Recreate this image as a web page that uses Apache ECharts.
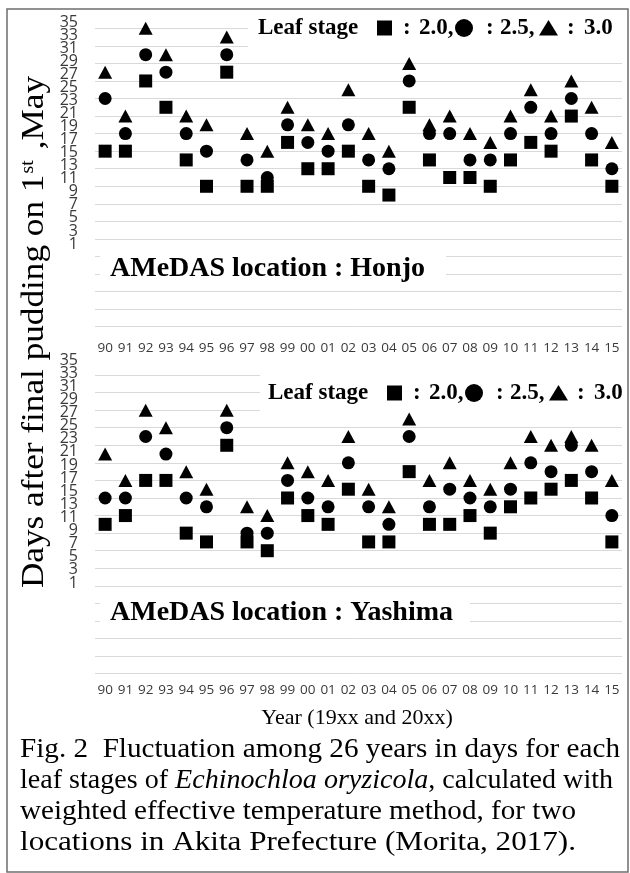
<!DOCTYPE html>
<html><head><meta charset="utf-8">
<script src="https://cdn.jsdelivr.net/npm/echarts@6/dist/echarts.min.js"></script>
<style>html,body{margin:0;padding:0;background:#fff}#c{width:630px;height:873px}</style>
</head><body><div id="c"></div>
<script>
const years = ['90','91','92','93','94','95','96','97','98','99','00','01','02','03','04','05','06','07','08','09','10','11','12','13','14','15'];
const yTickLabels = ['1','3','5','7','9','11','13','15','17','19','21','23','25','27','29','31','33','35'];
const honjo20 = [21,21,29,26,20,17,30,17,17,22,19,19,21,17,16,26,20,18,18,17,20,22,21,25,20,17];
const honjo25 = [27,23,32,30,23,21,32,20,18,24,22,21,24,20,19,29,23,23,20,20,23,26,23,27,23,19];
const honjo30 = [30,25,35,32,25,24,34,23,21,26,24,23,28,23,21,31,24,25,23,22,25,28,25,29,26,22];
const yashima20 = [18,19,23,23,17,16,27,16,15,21,19,18,22,16,16,24,18,18,19,17,20,21,22,23,21,16];
const yashima25 = [21,21,28,26,21,20,29,17,17,23,21,20,25,20,18,28,20,22,21,20,22,25,24,27,24,19];
const yashima30 = [26,23,31,29,24,22,31,20,19,25,24,23,28,22,20,30,23,25,23,22,25,28,27,28,27,23];
const yMin = 1, yMax = 35, yStep = 2;

const chart = echarts.init(document.getElementById('c'), null, {renderer: 'canvas'});
const serif = '"Liberation Serif","Times New Roman",serif';
const sans = '"Open Sans","Noto Sans",sans-serif';

function dataGridY(idx) {
  return {gridIndex: idx, type: 'value', min: yMin, max: yMax, interval: yStep,
    axisLine: {show: false}, axisTick: {show: false}, axisLabel: {show: false},
    splitLine: {show: true, lineStyle: {color: '#d9d9d9', width: 1}}};
}
function labelGridY(idx) {
  return {gridIndex: idx, type: 'category', data: yTickLabels, boundaryGap: false,
    axisLine: {show: false}, axisTick: {show: false}, splitLine: {show: false},
    axisLabel: {show: true, interval: 0, margin: 8, color: '#3a3a3a', fontFamily: sans, fontSize: 16, lineHeight: 12}};
}
function catX(idx, margin) {
  return {gridIndex: idx, type: 'category', data: years, boundaryGap: true,
    axisLine: {show: false}, axisTick: {show: false}, splitLine: {show: false},
    axisLabel: {interval: 0, margin: margin, color: '#3a3a3a', fontFamily: sans, fontSize: 13.5}};
}
function hiddenX(idx) { return {gridIndex: idx, type: 'value', show: false, min: 0, max: 1}; }

function sc(idx, data, symbol, size) {
  return {type: 'scatter', xAxisIndex: idx, yAxisIndex: idx, data: data, symbol: symbol,
    symbolSize: size, itemStyle: {color: '#000', opacity: 1}, z: 3, silent: true};
}

function legendParts(dx, cy) {
  const f = 'bold 23px ' + serif;
  const t = (x, s) => ({type: 'text', z: 2, x: x + dx, y: cy, style: {text: s, font: f, fill: '#000', verticalAlign: 'middle', align: 'left'}});
  return [
    t(258, 'Leaf stage'),
    {type: 'rect', z: 2, shape: {x: 377 + dx, y: cy - 7.5, width: 15, height: 15}, style: {fill: '#000'}},
    t(403, ':'), t(419, '2.0,'),
    {type: 'circle', z: 2, shape: {cx: 464 + dx, cy: cy, r: 9}, style: {fill: '#000'}},
    t(486, ':'), t(500, '2.5,'),
    {type: 'polygon', z: 2, shape: {points: [[539 + dx, cy + 7.5], [548.5 + dx, cy - 8], [558 + dx, cy + 7.5]]}, style: {fill: '#000'}},
    t(567, ':'), t(584, '3.0')
  ];
}

// caption lines fitted to the widths seen in the reference
const capSize = 27;
const mctx = document.createElement('canvas').getContext('2d');
function w(s, italic) { mctx.font = (italic ? 'italic ' : '') + capSize + 'px ' + serif; return mctx.measureText(s).width; }
const capLines = [
  {parts: [['Fig. 2  Fluctuation among 26 years in days for each', false]], target: 600},
  {parts: [['leaf stages of ', false], ['Echinochloa oryzicola', true], [', calculated with', false]], target: 593},
  {parts: [['weighted effective temperature method, for two', false]], target: 556},
  {parts: [['locations in Akita Prefecture (Morita, 2017).', false]], target: 556}
];
const capGraphics = capLines.map((ln, i) => {
  const total = ln.parts.reduce((a, p) => a + w(p[0], p[1]), 0);
  const txt = ln.parts.map(p => '{' + (p[1] ? 'i' : 'n') + '|' + p[0] + '}').join('');
  return {type: 'text', z: 2, x: 20, y: 750 + i * 31, scaleX: ln.target / total,
    style: {text: txt, align: 'left', verticalAlign: 'middle',
      rich: {n: {fontFamily: serif, fontSize: capSize, color: '#000'},
             i: {fontFamily: serif, fontSize: capSize, fontStyle: 'italic', color: '#000'}}}};
});

chart.setOption({
  animation: false,
  backgroundColor: '#fff',
  grid: [
    {left: 95, width: 527, top: 28.3, height: 298.4},
    {left: 86, width: 1, top: 22, height: 222},
    {left: 95, width: 527, top: 375, height: 298.7},
    {left: 86, width: 1, top: 360, height: 223}
  ],
  xAxis: [catX(0, 14), hiddenX(1), catX(2, 9), hiddenX(3)],
  yAxis: [dataGridY(0), labelGridY(1), dataGridY(2), labelGridY(3)],
  series: [
    sc(0, honjo20, 'rect', 13), sc(0, honjo25, 'circle', 13), sc(0, honjo30, 'triangle', [14, 13]),
    sc(2, yashima20, 'rect', 13), sc(2, yashima25, 'circle', 13), sc(2, yashima30, 'triangle', [14, 13])
  ],
  graphic: [
    {type: 'rect', z: 1, shape: {x: 248, y: 17, width: 380, height: 35}, style: {fill: '#fff'}},
    {type: 'rect', z: 1, shape: {x: 100, y: 249, width: 346, height: 33}, style: {fill: '#fff'}},
    {type: 'rect', z: 1, shape: {x: 260, y: 368, width: 368, height: 44}, style: {fill: '#fff'}},
    {type: 'rect', z: 1, shape: {x: 100, y: 596, width: 370, height: 33}, style: {fill: '#fff'}}
  ].concat(legendParts(0, 28), legendParts(10, 393), [
    {type: 'text', z: 2, x: 110, y: 269, style: {text: 'AMeDAS location : Honjo', font: 'bold 28px ' + serif, fill: '#000', verticalAlign: 'middle', align: 'left'}},
    {type: 'text', z: 2, x: 110, y: 613, style: {text: 'AMeDAS location : Yashima', font: 'bold 28px ' + serif, fill: '#000', verticalAlign: 'middle', align: 'left'}},
    {type: 'text', z: 2, x: 35, y: 332, rotation: Math.PI / 2, scaleX: 1.1,
      style: {text: '{a|Days after final pudding on 1}{s|st}{a| ,May}', align: 'center', verticalAlign: 'middle',
        rich: {a: {fontFamily: serif, fontSize: 32, color: '#000'},
               s: {fontFamily: serif, fontSize: 18, color: '#000', padding: [0, 2, 14, 1]}}}},
    {type: 'text', z: 2, x: 357, y: 718, style: {text: 'Year (19xx and 20xx)', font: '22px ' + serif, fill: '#000', align: 'center', verticalAlign: 'middle'}},
    {type: 'rect', z: 5, shape: {x: 7, y: 9, width: 621, height: 863}, style: {fill: 'none', stroke: '#6e6e6e', lineWidth: 1.5}}
  ], capGraphics)
});
</script></body></html>
